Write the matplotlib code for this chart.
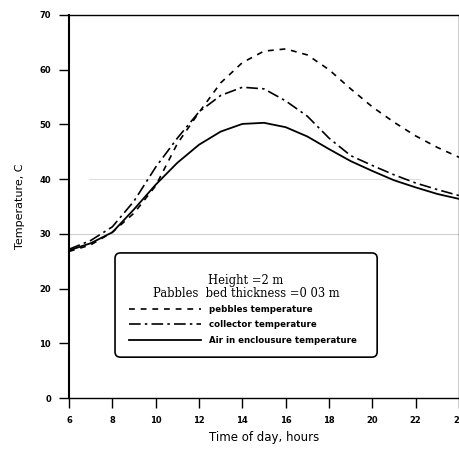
import matplotlib
matplotlib.use("Agg")
import matplotlib.pyplot as plt
from matplotlib.patches import FancyBboxPatch

# hour of day
hours = [6, 7, 8, 9, 10, 11, 12, 13, 14, 15, 16, 17, 18, 19, 20, 21, 22, 23, 24]

# temperatures, C
pebbles = [26.8, 28.0, 30.3, 33.8, 38.8, 46.5, 52.2, 57.6, 61.3, 63.4, 63.8,
           62.7, 60.0, 56.5, 53.2, 50.4, 47.9, 45.8, 44.0]
collector = [27.2, 28.8, 31.3, 36.0, 42.2, 47.5, 52.3, 55.3, 56.8, 56.5, 54.3,
             51.5, 47.5, 44.3, 42.5, 40.8, 39.3, 38.1, 37.0]
air = [27.0, 28.3, 30.3, 34.5, 39.0, 43.0, 46.3, 48.7, 50.1, 50.3, 49.5,
       47.8, 45.5, 43.3, 41.5, 39.8, 38.5, 37.3, 36.4]

labels = ["pebbles temperature", "collector temperature",
          "Air in enclousure temperature"]
xticks = [6, 8, 10, 12, 14, 16, 18, 20, 22, 24]
yticks = [0, 10, 20, 30, 40, 50, 60, 70]

fig = plt.figure(figsize=(4.6, 4.54), dpi=100)
ax = fig.add_axes([0.15, 0.123, 0.848, 0.844])

# faint scan lines
ax.axhline(30, color="#d0d0d0", lw=0.8, zorder=0)
ax.axhline(40, xmin=0.05, xmax=0.9, color="#e0e0e0", lw=0.8, zorder=0)

ax.plot(hours, pebbles, color="black", lw=1.2, linestyle=(0, (3.5, 3.5)),
        label=labels[0])
ax.plot(hours, collector, color="black", lw=1.2,
        linestyle=(0, (7, 2.5, 1.5, 2.5)), label=labels[1])
ax.plot(hours, air, color="black", lw=1.3, label=labels[2])

ax.set_xlim(6, 24)
ax.set_ylim(0, 70)
ax.set_xticks(xticks)
ax.set_yticks(yticks)
ax.tick_params(direction="out", length=7, width=1, labelsize=6, pad=6)
for t in ax.get_xticklabels() + ax.get_yticklabels():
    t.set_fontweight("bold")
for s in ax.spines.values():
    s.set_linewidth(1.0)
ax.spines["left"].set_linewidth(1.5)

ax.set_xlabel("Time of day, hours", fontsize=8.5, labelpad=4)
ax.set_ylabel("Temperature, C", fontsize=8, labelpad=10)

# legend box drawn by hand
box = FancyBboxPatch((0.118, 0.107), 0.672, 0.272, transform=ax.transAxes,
                     boxstyle="round,pad=0,rounding_size=0.014",
                     mutation_aspect=1.0, facecolor="white",
                     edgecolor="black", lw=1.2, zorder=4)
ax.add_patch(box)
ax.text(0.454, 0.306, "Height =2 m", transform=ax.transAxes, ha="center",
        va="center", family="serif", fontsize=8.3, zorder=5)
ax.text(0.454, 0.272, "Pabbles  bed thickness =0 03 m", transform=ax.transAxes,
        ha="center", va="center", family="serif", fontsize=8.3, zorder=5)
leg = ax.legend(loc="upper left", bbox_to_anchor=(0.155, 0.244),
                frameon=False, handlelength=8.3, handletextpad=0.9,
                borderpad=0, borderaxespad=0, labelspacing=0.75,
                prop={"size": 6.2, "weight": "bold"})
leg.set_zorder(6)

fig.savefig("out.png", dpi=100)
